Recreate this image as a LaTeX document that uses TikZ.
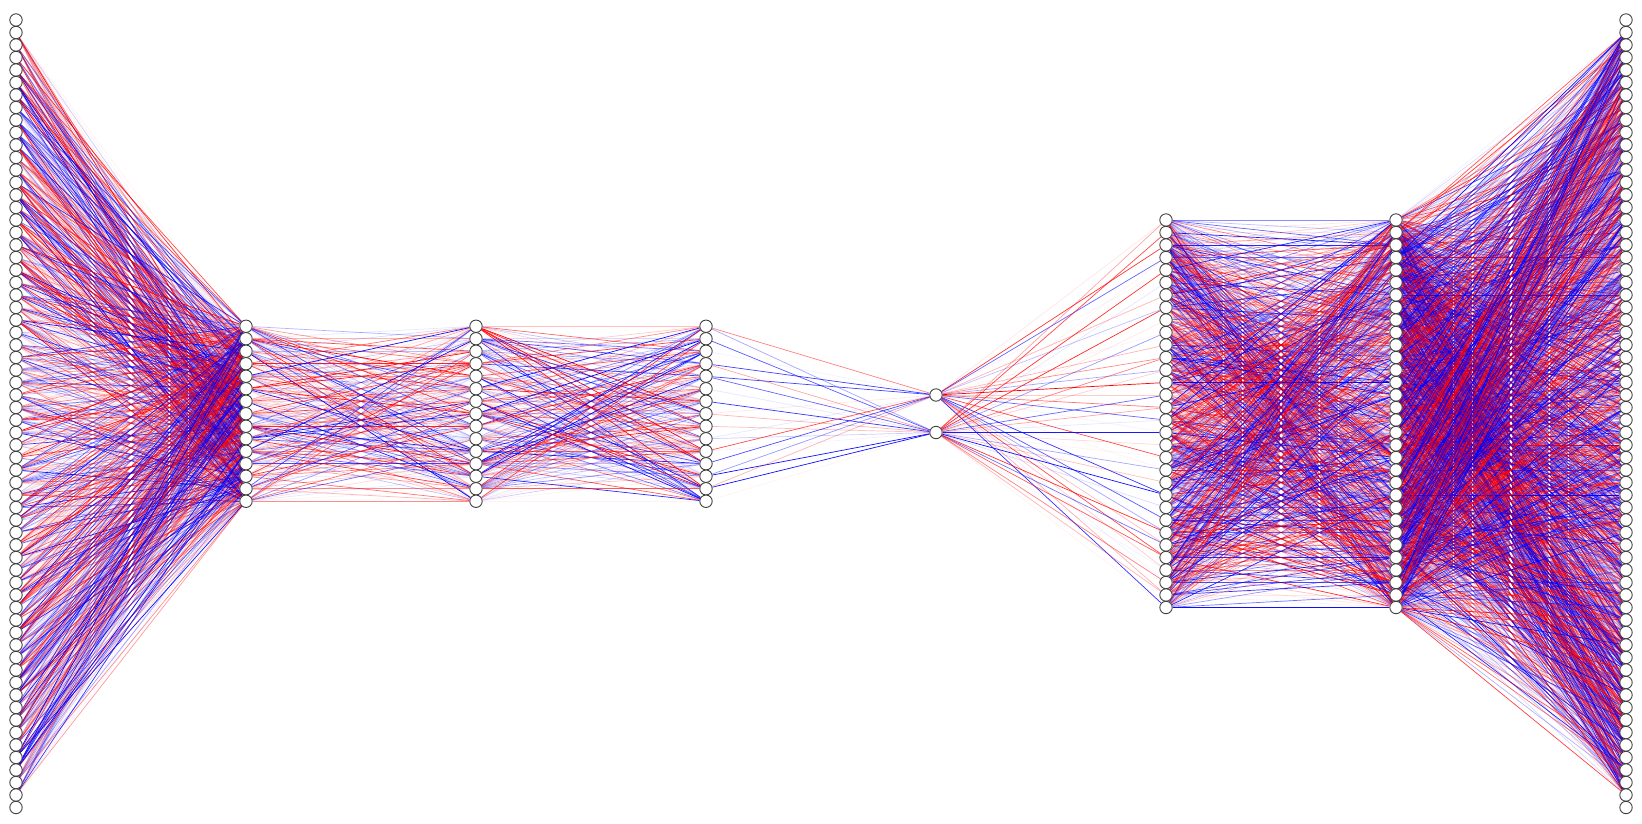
\documentclass[tikz,border=0pt]{standalone}
\usetikzlibrary{backgrounds}
\begin{document}
\begin{tikzpicture}[x=1pt,y=-1pt,
  neuron/.style={circle,draw=black!75,fill=white,line width=0.9pt,minimum size=12.4pt,inner sep=0pt},
  edge/.style={line width=0.7pt}]
\useasboundingbox (0,0) rectangle (1642,823);
\pgfmathsetseed{7}
% neurons
\foreach \l/\n/\s in {1/64/12.5, 2/15/12.5, 3/15/12.5, 4/15/12.5, 5/2/37.5, 6/32/12.5, 7/32/12.5, 8/64/12.5}{
  \foreach \i in {1,...,\n}{
    \node[neuron] (n\l-\i) at ({16+230*(\l-1)}, {413.75+(\i-(\n+1)/2)*\s}) {};
  }
}
% connections
\begin{pgfonlayer}{background}
\foreach \a/\na/\ia/\ib/\b/\nb/\ja/\jb in {1/64/2/63/2/15/1/15, 2/15/1/15/3/15/1/15, 3/15/1/15/4/15/1/15, 4/15/1/15/5/2/1/2, 5/2/1/2/6/32/1/32, 6/32/1/32/7/32/1/32, 7/32/1/32/8/64/2/63}{
  \foreach \i in {\ia,...,\ib}{
    \foreach \j in {\ja,...,\jb}{
      \pgfmathsetmacro\w{rand}
      \pgfmathsetmacro\op{round(abs(\w)^2.1*20)/20}
      \ifdim\w pt>0pt \def\col{red}\else\def\col{blue}\fi
      \ifdim\op pt>0pt
        \draw[edge,draw=\col,draw opacity=\op] (n\a-\i) -- (n\b-\j);
      \fi
    }
  }
}
\end{pgfonlayer}
\end{tikzpicture}
\end{document}
